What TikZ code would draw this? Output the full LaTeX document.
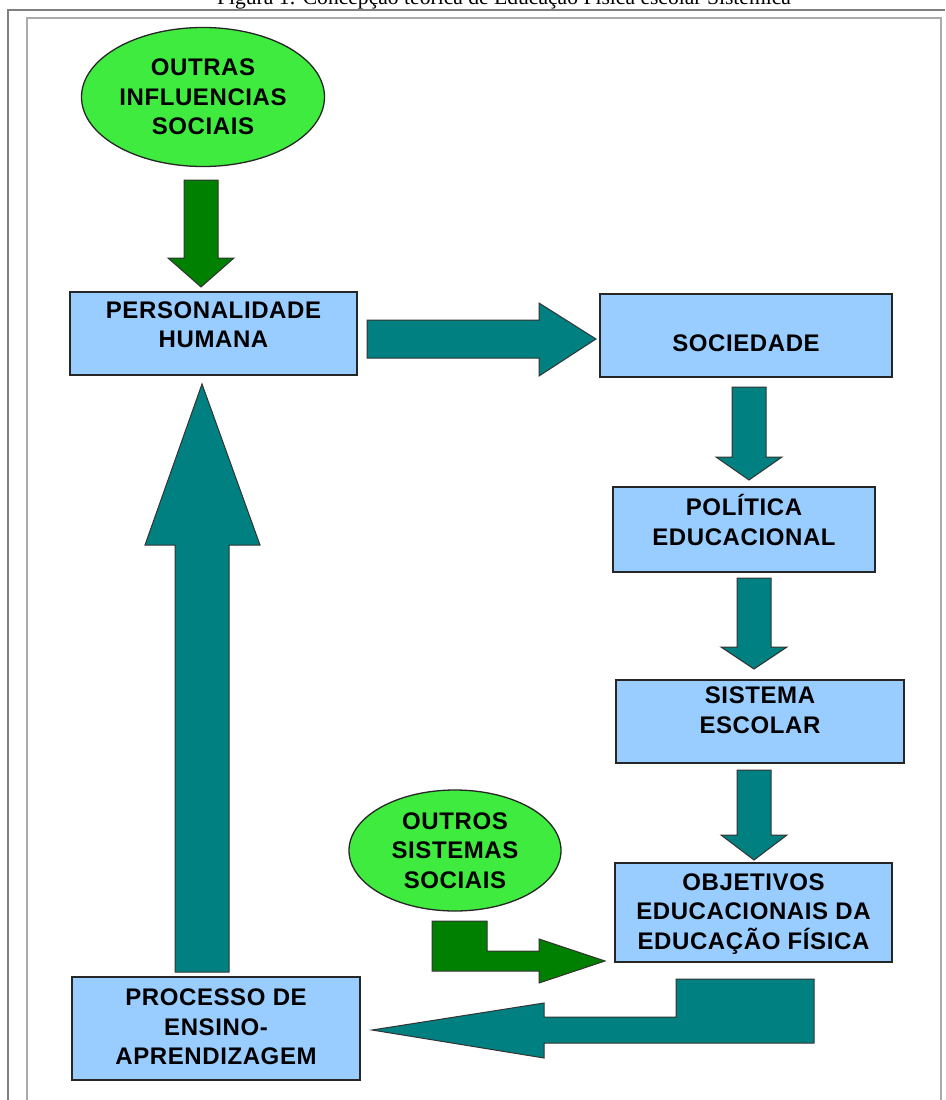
\documentclass[tikz,border=0pt]{standalone}
\usepackage{fontspec}
\setmainfont{Liberation Serif}
\newfontfamily\boxfont[LetterSpace=2.5]{Liberation Sans}
\usetikzlibrary{shapes.geometric,positioning}

\definecolor{boxblue}{RGB}{153,204,255}
\definecolor{arrteal}{RGB}{0,128,128}
\definecolor{arrgreen}{RGB}{0,128,0}
\definecolor{blobgreen}{RGB}{64,235,64}
\definecolor{frameout}{RGB}{128,128,128}
\definecolor{framein}{RGB}{170,170,170}

\tikzset{
  box/.style={draw=black!85, line width=1.6pt, fill=boxblue, inner sep=0pt},
  lbl/.style={font=\boxfont\bfseries\fontsize{24}{29.5}\selectfont, align=center, text=black},
  blob/.style={ellipse, draw=black!85, line width=1.3pt, fill=blobgreen, inner sep=0pt, lbl},
  blockarrow/.style={draw=black!80, line width=1pt, line join=miter}
}

% vertical block arrow pointing down: fill, x centre, y top, y tip, head length
\newcommand\dnarrow[5]{%
  \filldraw[blockarrow, fill=#1] (#2-17,#3) -- (#2+17,#3) -- (#2+17,#4-#5) -- (#2+33,#4-#5)
    -- (#2,#4) -- (#2-33,#4-#5) -- (#2-17,#4-#5) -- cycle;}

\begin{document}
\begin{tikzpicture}[x=1pt, y=-1pt, line cap=butt]
    \path[use as bounding box] (0,0) rectangle (945,1100);
    % frames
    \draw[frameout, line width=2pt] (8,1100) -- (8,10) -- (945,10);
    \draw[framein, line width=1.5pt] (27,1100) -- (27,18) -- (941,18) -- (941,1100);
    \node[anchor=base, font=\fontsize{21.6}{24}\selectfont] (title) at (504,5) {Figura 1: Concepção teórica de Educação Física escolar Sistêmica};
    % boxes
    \node[box, minimum width=287pt, minimum height=83pt, label={[lbl,yshift=9pt]center:{PERSONALIDADE\\HUMANA}}] (ph) at (213.5,333.5) {};
    \node[box, minimum width=292pt, minimum height=83pt, label={[lbl,yshift=-8pt]center:{SOCIEDADE}}] (soc) at (746,335.5) {};
    \node[box, minimum width=262pt, minimum height=85pt, label={[lbl,yshift=9.5pt]center:{POLÍTICA\\EDUCACIONAL}}] (pol) at (744,529.5) {};
    \node[box, minimum width=288pt, minimum height=83pt, label={[lbl,yshift=11.5pt]center:{SISTEMA\\ESCOLAR}}] (sis) at (760,721.5) {};
    \node[box, minimum width=277pt, minimum height=99pt, label={[lbl,yshift=-1.5pt]center:{OBJETIVOS\\EDUCACIONAIS DA\\EDUCAÇÃO FÍSICA}}] (obj) at (753.5,912.5) {};
    \node[box, minimum width=288pt, minimum height=103pt, label={[lbl,yshift=1.5pt]center:{PROCESSO DE\\ENSINO-\\APRENDIZAGEM}}] (proc) at (216,1028.5) {};
    % ellipses
    \node[blob, minimum width=243pt, minimum height=139pt] (ois) at (203,97) {OUTRAS\\INFLUENCIAS\\SOCIAIS};
    \node[blob, minimum width=212pt, minimum height=121pt] (oss) at (455,850.5) {OUTROS\\SISTEMAS\\SOCIAIS};
    % arrows
    \dnarrow{arrgreen}{201}{180}{287}{29}
    \dnarrow{arrteal}{749}{387}{480}{23}
    \dnarrow{arrteal}{754}{578}{669}{22}
    \dnarrow{arrteal}{754}{770}{860}{25}
    \filldraw[blockarrow, fill=arrteal] (367,320) -- (539,320) -- (539,303) -- (596,339)
      -- (539,376) -- (539,358) -- (367,358) -- cycle;
    \filldraw[blockarrow, fill=arrteal] (175,972) -- (175,545) -- (145,545) -- (202,384)
      -- (260,545) -- (229,545) -- (229,972) -- cycle;
    \filldraw[blockarrow, fill=arrgreen] (432,921) -- (487,921) -- (487,951) -- (539,951)
      -- (539,939) -- (605,961) -- (539,983) -- (539,971) -- (432,971) -- cycle;
    \filldraw[blockarrow, fill=arrteal] (814,979) -- (814,1043) -- (544,1043) -- (544,1058)
      -- (372,1030) -- (544,1003) -- (544,1017) -- (676,1017) -- (676,979) -- cycle;
\end{tikzpicture}
\end{document}
